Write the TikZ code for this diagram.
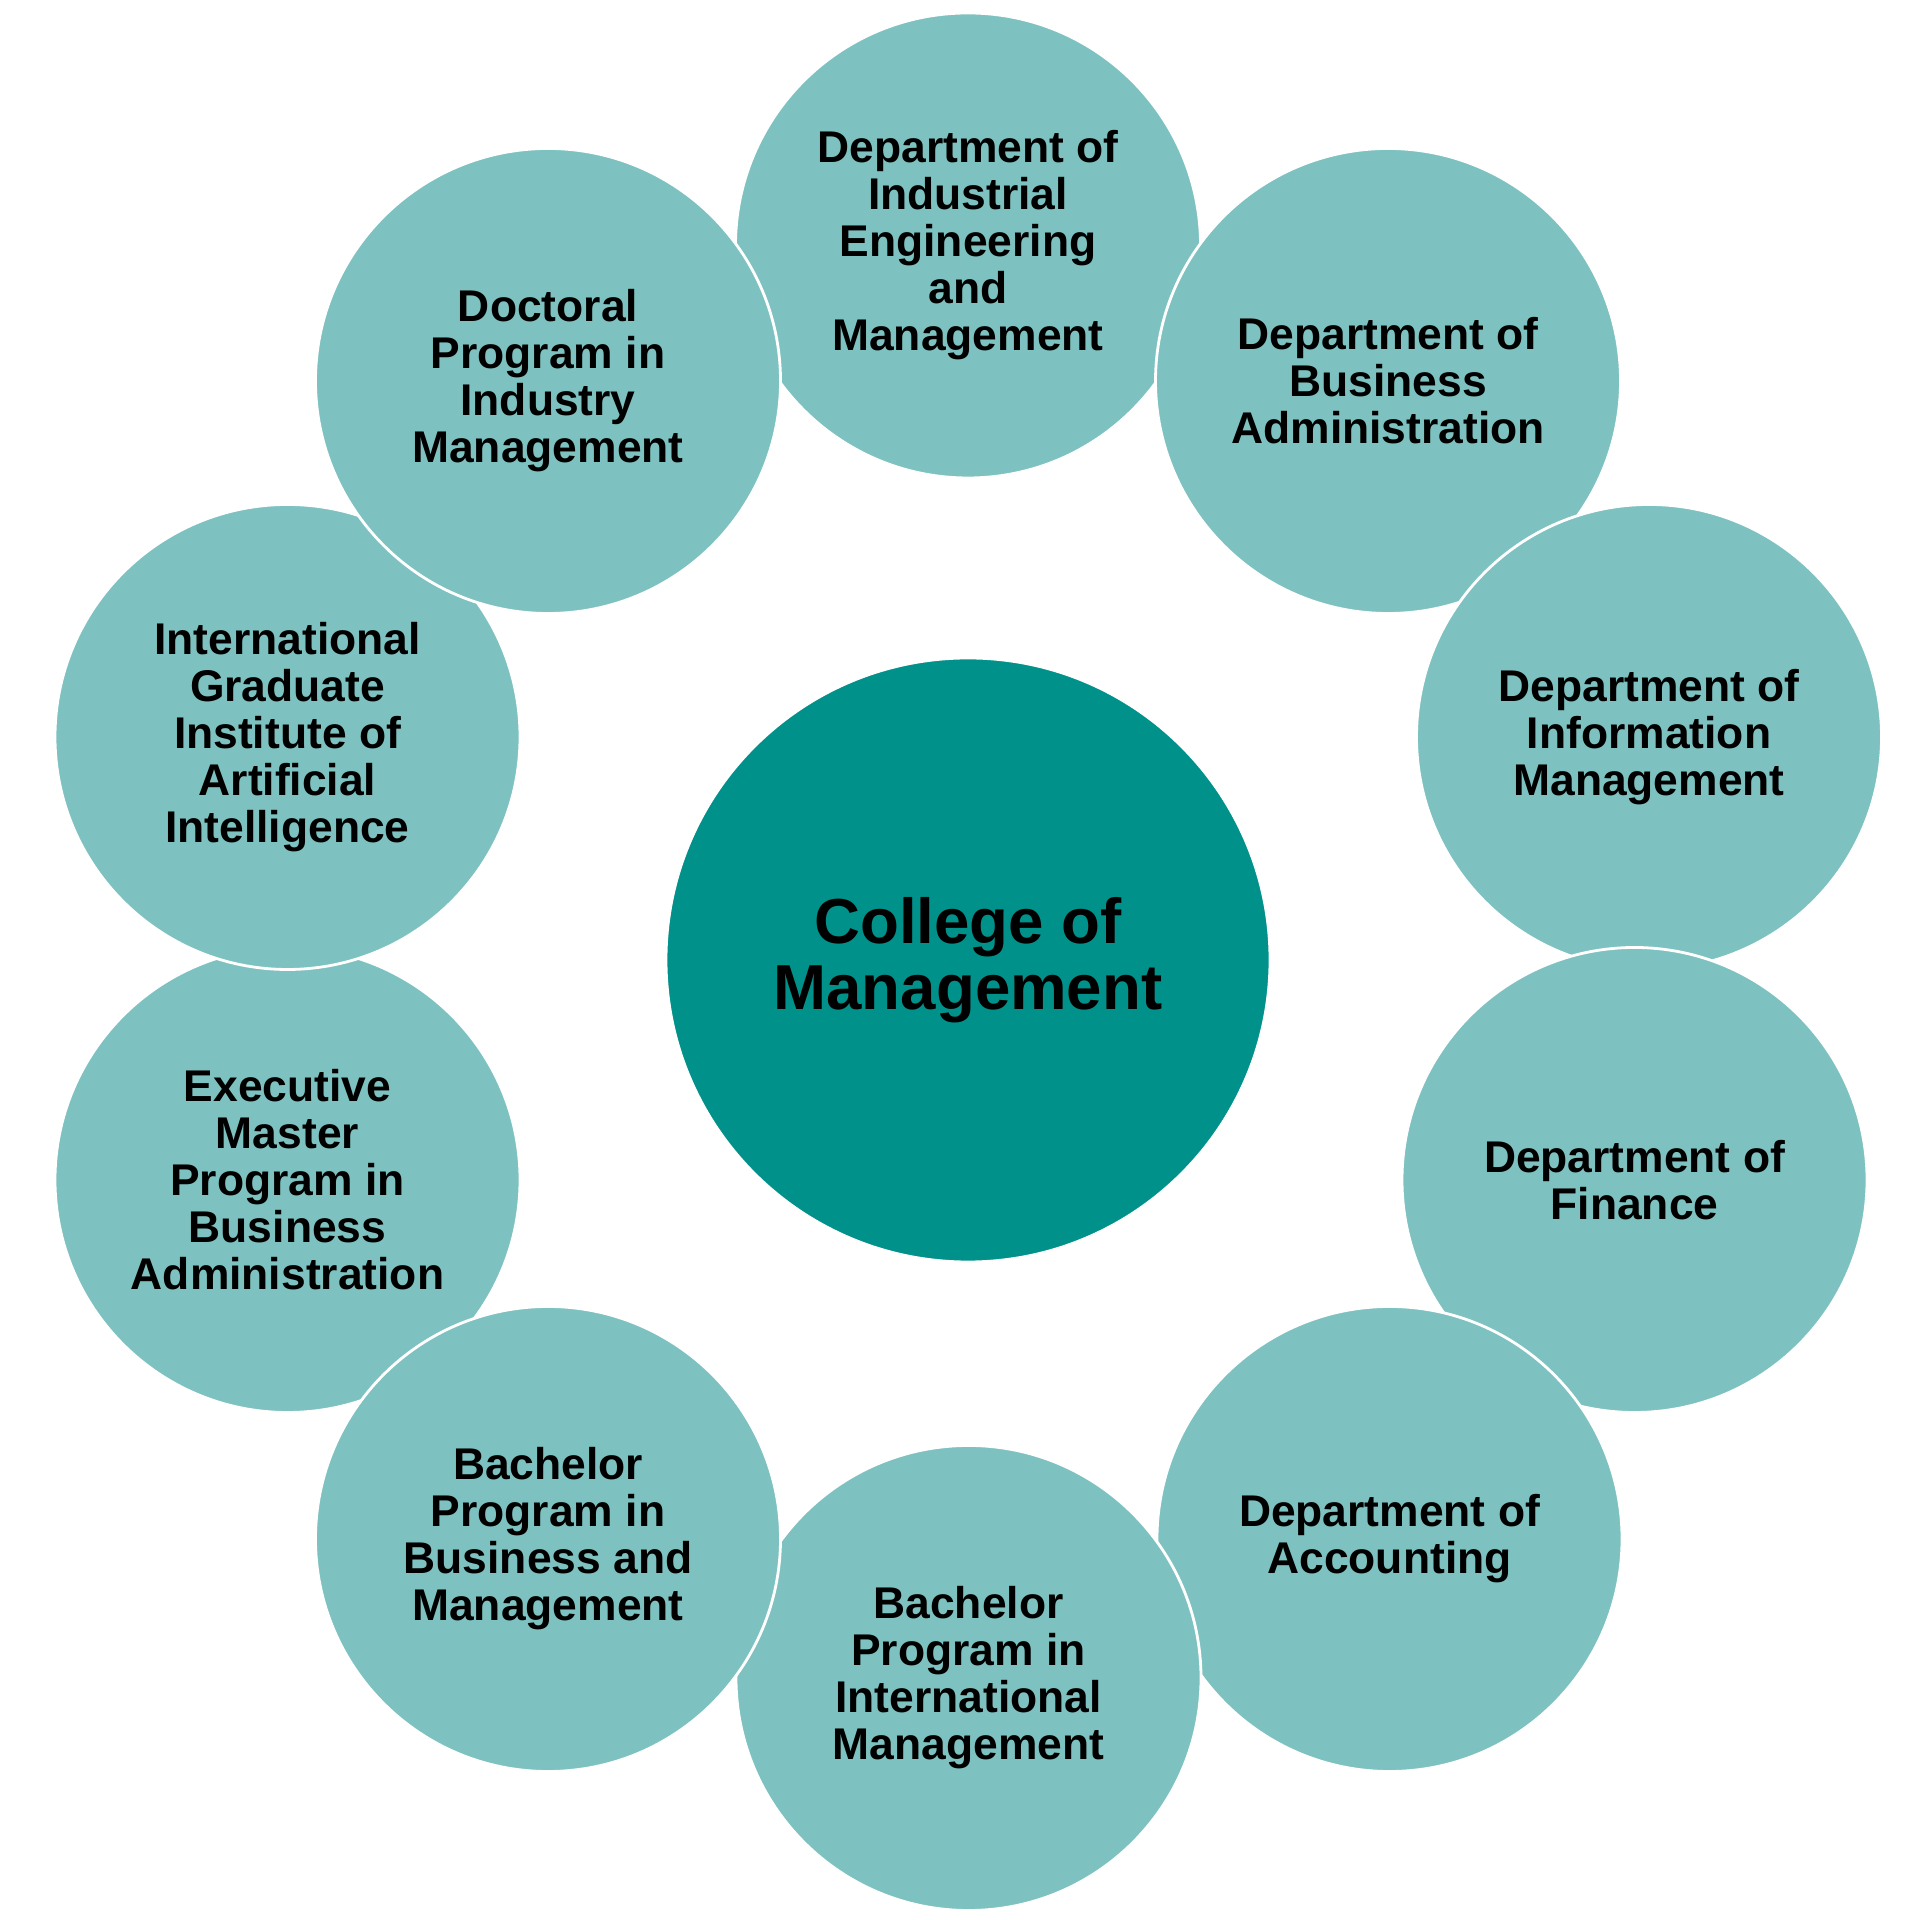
\documentclass[tikz,border=0pt]{standalone}
\usepackage{fontspec}
\setmainfont{Liberation Sans}
\definecolor{darkteal}{HTML}{00918B}
\definecolor{lightteal}{HTML}{7DC2C0}

\begin{document}
\begin{tikzpicture}[x=0.5pt,y=0.5pt,
	unit/.style={circle,fill=lightteal,draw=white,line width=1.4pt,
		minimum size=232.5pt,inner sep=0pt,align=center,
		font=\bfseries\fontsize{22.2pt}{23.5pt}\selectfont},
	college/.style={circle,fill=darkteal,draw=white,line width=1.4pt,
		minimum size=302pt,inner sep=0pt,align=center,
		font=\bfseries\fontsize{31.8pt}{33.2pt}\selectfont}]

\useasboundingbox (0,0) rectangle (1920,1920);

\node[college] (college) at (968,960) {College of\\Management};

% drawn in this order so that the overlaps come out right
\foreach \name/\x/\y/\txt in {
	indeng/968/1674.5/{Department of\\Industrial\\Engineering\\and\\Management},
	emba/287.5/740/{Executive\\Master\\Program in\\Business\\Administration},
	busadm/1388/1539/{Department of\\Business\\Administration},
	infomgt/1649/1183/{Department of\\Information\\Management},
	finance/1634.5/740/{Department of\\Finance},
	account/1389.5/381/{Department of\\Accounting},
	bachint/968.5/242/{Bachelor\\Program in\\International\\Management},
	bachbus/548/381/{Bachelor\\Program in\\Business and\\Management},
	aiinst/287.5/1183/{International\\Graduate\\Institute of\\Artificial\\Intelligence},
	doctoral/548/1539/{Doctoral\\Program in\\Industry\\Management}}{
	\node[unit] (\name) at (\x,\y) {\txt};
}

\end{tikzpicture}
\end{document}
